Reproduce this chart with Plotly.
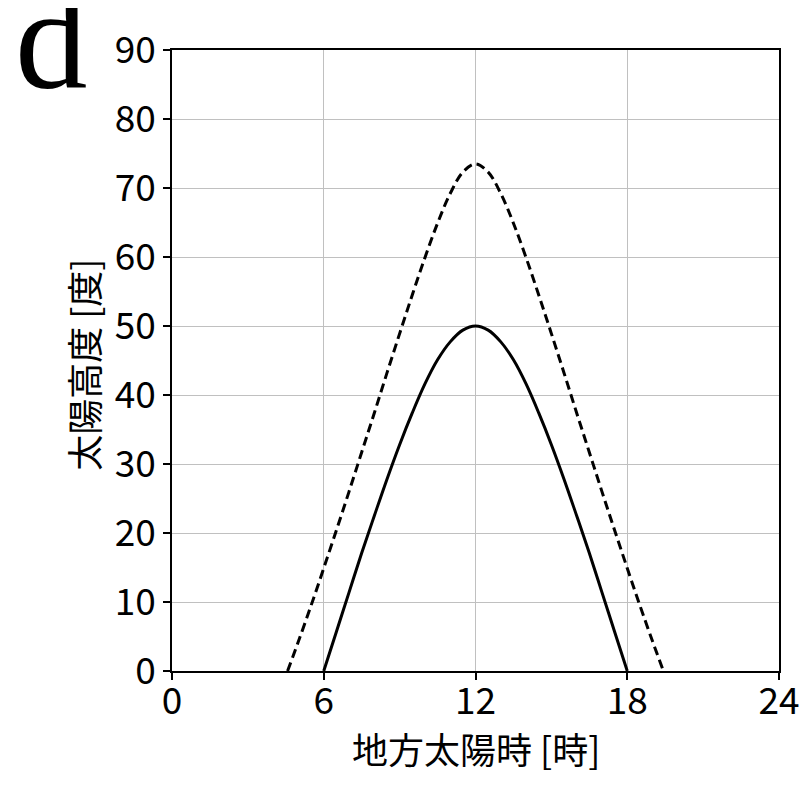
import plotly.graph_objects as go

# Local solar time [h] and solar altitude [deg]
t_solid = [6.0, 6.5, 7.0, 7.5, 8.0, 8.5, 9.0, 9.5, 10.0, 10.5, 11.0, 11.5, 12.0,
           12.5, 13.0, 13.5, 14.0, 14.5, 15.0, 15.5, 16.0, 16.5, 17.0, 17.5, 18.0]
alt_solid = [0.0, 5.7, 11.4, 17.1, 22.5, 27.8, 32.8, 37.4, 41.6, 45.1, 47.7, 49.4, 50.0,
             49.4, 47.7, 45.1, 41.6, 37.4, 32.8, 27.8, 22.5, 17.1, 11.4, 5.7, 0.0]

t_dash = [4.57, 5.0, 5.5, 6.0, 6.5, 7.0, 7.5, 8.0, 8.5, 9.0, 9.5, 10.0, 10.5, 11.0, 11.5, 12.0,
          12.5, 13.0, 13.5, 14.0, 14.5, 15.0, 15.5, 16.0, 16.5, 17.0, 17.5, 18.0, 18.5, 19.0, 19.43]
alt_dash = [0.0, 4.3, 9.5, 14.9, 20.4, 26.0, 31.7, 37.4, 43.2, 48.9, 54.5, 59.9, 64.9, 69.2, 72.3, 73.5,
            72.3, 69.2, 64.9, 59.9, 54.5, 48.9, 43.2, 37.4, 31.7, 26.0, 20.4, 14.9, 9.5, 4.3, 0.0]

x_ticks = [0, 6, 12, 18, 24]
y_ticks = [0, 10, 20, 30, 40, 50, 60, 70, 80, 90]

x_title = "地方太陽時 [時]"
y_title = "太陽高度 [度]"
panel_label = "d"

font_family = "Noto Sans CJK JP"

fig = go.Figure()
fig.add_trace(go.Scatter(x=t_dash, y=alt_dash, mode="lines",
                         line=dict(color="black", width=3, dash="9px,5px", shape="spline"),
                         showlegend=False))
fig.add_trace(go.Scatter(x=t_solid, y=alt_solid, mode="lines",
                         line=dict(color="black", width=3, shape="spline"),
                         showlegend=False))

axis_common = dict(showline=True, linecolor="black", linewidth=1.5, mirror=True,
                   ticks="outside", ticklen=7, tickwidth=1.5, tickcolor="black",
                   showgrid=True, gridcolor="#c0c0c0", gridwidth=1.2,
                   zeroline=False, tickfont=dict(size=37, color="black", family=font_family))

fig.update_xaxes(range=[0, 24], tickvals=x_ticks, ticktext=[str(v) for v in x_ticks],
                 ticklabelstandoff=-10, **axis_common)
fig.update_yaxes(range=[0, 90], tickvals=y_ticks, ticktext=[str(v) for v in y_ticks],
                 **axis_common)

fig.add_annotation(text=x_title, xref="paper", yref="paper", x=0.5, y=-0.1235,
                   xanchor="center", yanchor="middle", showarrow=False,
                   font=dict(size=36, family=font_family, color="black"))
fig.add_annotation(text=y_title, xref="paper", yref="paper", x=-0.1466, y=0.493,
                   xanchor="center", yanchor="middle", textangle=-90, showarrow=False,
                   font=dict(size=36, family=font_family, color="black"))

fig.add_annotation(text=panel_label, xref="paper", yref="paper", x=-0.262, y=1.15,
                   xanchor="left", yanchor="top", showarrow=False,
                   font=dict(size=145, family="Liberation Serif", color="black"))

fig.update_layout(width=812, height=793, plot_bgcolor="white", paper_bgcolor="white",
                  margin=dict(l=164, r=41, t=34, b=130))

fig.write_html("out.html")
